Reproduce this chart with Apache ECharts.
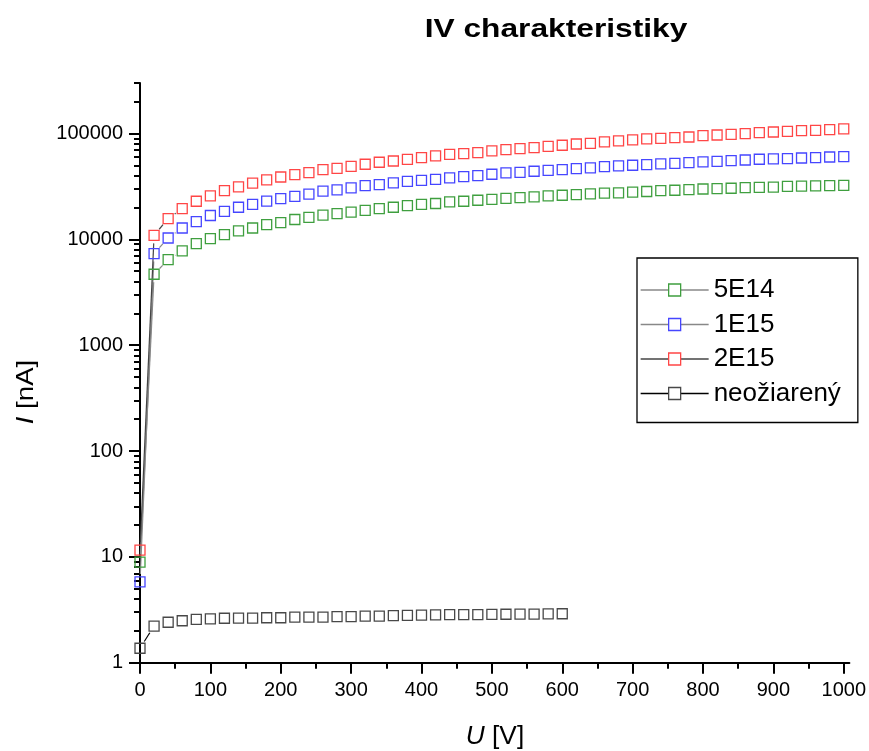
<!DOCTYPE html>
<html><head><meta charset="utf-8">
<script src="https://cdn.jsdelivr.net/npm/echarts@6/dist/echarts.min.js"></script>
<style>html,body{margin:0;padding:0;background:#fff}#c{width:869px;height:751px}</style>
</head><body><div id="c"></div>
<script>
// ---- data ----
const voltage = [0,20,40,60,80,100,120,140,160,180,200,220,240,260,280,300,320,340,360,380,400,420,440,460,480,500,520,540,560,580,600,620,640,660,680,700,720,740,760,780,800,820,840,860,880,900,920,940,960,980,1000];
const s5E14 = [8.9,4680,6440,7770,9120,10170,11100,12000,12800,13800,14400,15400,16100,16900,17500,18100,18800,19500,20100,20800,21400,21800,22600,22900,23400,23900,24400,24800,25200,25700,26100,26500,26900,27300,27500,27900,28300,28900,29100,29500,29900,30200,30400,30800,31000,31200,31700,31800,32000,32200,32400];
const s1E15 = [5.8,7340,10300,12800,14700,16800,18400,20100,21400,23000,24300,25500,26800,28500,29300,30600,32200,32900,34100,35300,36100,36900,38000,39100,40000,41200,42400,43000,44000,44900,45600,46600,47300,48700,49400,50100,50800,51600,52300,53100,53900,54600,55400,56200,57100,57500,57900,58700,59200,60000,60500];
const s2E15 = [11.6,10900,15700,19500,22900,25700,28900,31300,33900,36400,38800,40900,42700,45600,46900,49000,51200,53500,55000,57000,59200,61400,63600,64600,66000,68400,70400,72000,73500,75700,77400,79600,80800,83200,85000,86900,88800,90100,91400,92700,95400,96800,98300,99700,101900,103300,104900,106400,107200,108800,110400];
const sNeo = [1.37,2.22,2.41,2.49,2.57,2.59,2.63,2.64,2.64,2.66,2.66,2.70,2.70,2.70,2.72,2.73,2.75,2.76,2.78,2.80,2.81,2.83,2.84,2.84,2.85,2.86,2.87,2.88,2.88,2.89,2.90];
const seriesNames = ['5E14','1E15','2E15','neožiarený'];
const xTickValues = [0,100,200,300,400,500,600,700,800,900,1000];
const xMinorTickValues = [50,150,250,350,450,550,650,750,850,950];
const yTickValues = [1,10,100,1000,10000,100000];
const yMax = 300000;

// ---- styles ----
const markerColors = ['#3f9f3f','#4646ff','#ff4646','#484848'];
const lineColors = ['#888888','#888888','#444444','#000000'];
const FONT = 'Liberation Sans, Arial, sans-serif';

const allSeries = [s5E14, s1E15, s2E15, sNeo];
const yMinorTickValues = [];
yTickValues.forEach(d => { for (let m = 2; m <= 9; m++) { if (d*m <= yMax) yMinorTickValues.push(d*m); } });
const logMax = Math.log10(yMax);

const chart = echarts.init(document.getElementById('c'), null, {renderer:'canvas'});

const series = [];
// connecting lines, with a gap around each symbol (as in the original plot)
allSeries.forEach((vals, k) => {
  const segs = [];
  for (let i = 1; i < vals.length; i++) segs.push([voltage[i-1], vals[i-1], voltage[i], vals[i]]);
  series.push({
    type: 'custom', xAxisIndex: 0, yAxisIndex: 0, silent: true, z: 1,
    encode: {x: [0,2], y: [1,3]},
    data: segs,
    renderItem: (params, api) => {
      const p0 = api.coord([api.value(0), api.value(1)]);
      const p1 = api.coord([api.value(2), api.value(3)]);
      const dx = p1[0]-p0[0], dy = p1[1]-p0[1];
      const L = Math.hypot(dx, dy), g = 8;
      if (L <= 2*g) return null;
      const ux = dx/L, uy = dy/L;
      return {type:'line', shape:{x1:p0[0]+ux*g, y1:p0[1]+uy*g, x2:p1[0]-ux*g, y2:p1[1]-uy*g},
              style:{stroke: lineColors[k], lineWidth: 1.2}};
    }
  });
});
allSeries.forEach((vals, k) => {
  series.push({
    name: seriesNames[k], type: 'line', xAxisIndex: 0, yAxisIndex: 0, z: 3,
    data: vals.map((v, i) => [voltage[i], v]),
    symbol: 'rect', symbolSize: 10, showAllSymbol: true,
    lineStyle: {opacity: 0, width: 0},
    itemStyle: {color: 'rgba(0,0,0,0)', borderColor: markerColors[k], borderWidth: 1.3},
    emphasis: {disabled: true}, animation: false
  });
});

const option = {
  animation: false,
  grid: {left: 140, right: 19, top: 83, bottom: 88.3, containLabel: false},
  xAxis: [
    {type:'value', min:0, max:1008, position:'bottom',
     axisLine:{show:true, onZero:false, lineStyle:{color:'#000', width:2}},
     axisTick:{show:true, customValues:xTickValues, length:11, lineStyle:{color:'#000', width:2}},
     axisLabel:{show:true, customValues:xTickValues, margin:18, color:'#000', fontSize:20, fontFamily:FONT,
                formatter: v => String(v)},
     splitLine:{show:false}},
    {type:'value', min:0, max:1008, position:'bottom',
     axisLine:{show:false, onZero:false},
     axisTick:{show:true, customValues:xMinorTickValues, length:6, lineStyle:{color:'#000', width:2}},
     axisLabel:{show:false}, splitLine:{show:false}}
  ],
  yAxis: [
    {type:'log', logBase:10, min:1, max:yMax, show:false, splitLine:{show:false}},
    {type:'value', min:0, max:logMax, position:'left',
     axisLine:{show:true, onZero:false, lineStyle:{color:'#000', width:2}},
     axisTick:{show:true, customValues:yTickValues.map(v=>Math.log10(v)), length:11, lineStyle:{color:'#000', width:2}},
     axisLabel:{show:true, customValues:yTickValues.map(v=>Math.log10(v)), margin:17, color:'#000', fontSize:20, fontFamily:FONT,
                formatter: v => String(Math.round(Math.pow(10, v)))},
     splitLine:{show:false}},
    {type:'value', min:0, max:logMax, position:'left',
     axisLine:{show:false, onZero:false},
     axisTick:{show:true, customValues:yMinorTickValues.map(v=>Math.log10(v)), length:6, lineStyle:{color:'#000', width:2}},
     axisLabel:{show:false}, splitLine:{show:false}}
  ],
  legend: {
    orient:'vertical', left:637, top:258, selectedMode:false,
    padding:[19, 17, 16, 3], itemGap:8.5, itemWidth:68, itemHeight:15,
    borderColor:'#000', borderWidth:1.3, backgroundColor:'#fff',
    textStyle:{fontSize:26, lineHeight:26, color:'#000', fontFamily:FONT},
    data: seriesNames.map((n, k) => ({
      name:n,
      itemStyle:{color:'#fff', borderColor:markerColors[k], borderWidth:1.3},
      lineStyle:{color:lineColors[k], width:1.3, opacity:1}
    }))
  },
  graphic: [
    {type:'text', x:556, y:30, scaleX:1.22,
     style:{text:'IV charakteristiky', fill:'#000', font:'bold 26px '+FONT, textAlign:'center', textVerticalAlign:'middle', verticalAlign:'middle'}},
    {type:'text', x:495, y:737, scaleX:1.05,
     style:{text:'{i|U} [V]', fill:'#000', font:'25px '+FONT, textAlign:'center', textVerticalAlign:'middle', verticalAlign:'middle',
            rich:{i:{fontStyle:'italic', fontSize:25, fontFamily:FONT}}}},
    {type:'text', x:26, y:392, rotation:Math.PI/2, scaleX:1.15,
     style:{text:'{i|I} [nA]', fill:'#000', font:'24px '+FONT, textAlign:'center', textVerticalAlign:'middle', verticalAlign:'middle',
            rich:{i:{fontStyle:'italic', fontSize:24, fontFamily:FONT}}}}
  ],
  series: series
};
chart.setOption(option);
</script>
</body></html>
